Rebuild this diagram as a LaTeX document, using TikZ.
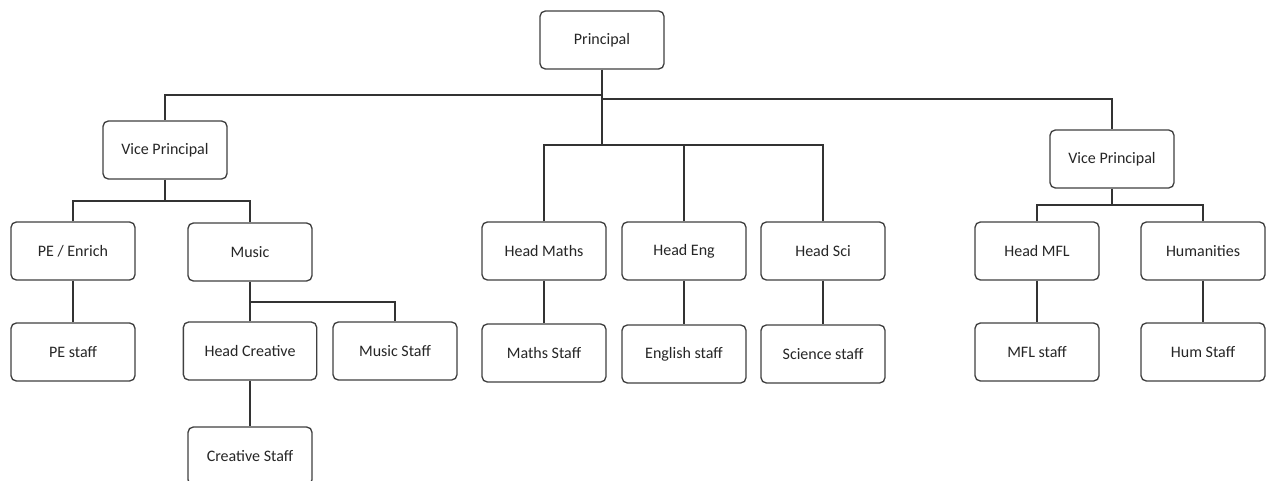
\documentclass[tikz,border=0pt]{standalone}
\usepackage{fontspec}
\setmainfont{Carlito}
\usetikzlibrary{positioning}

\begin{document}
\begin{tikzpicture}[
    x=0.75pt, y=-0.75pt,
    font=\fontsize{12}{14}\selectfont,
    post/.style={draw=black!75, line width=1pt, rounded corners=4pt,
                 fill=white, text=black!85, inner sep=2pt,
                 minimum width=93pt, minimum height=43.5pt},
    link/.style={draw=black!80, line width=1pt},
]

\useasboundingbox (0,0) rectangle (1273,481);

% =====================================================================
%  Posts
% =====================================================================
\node[post] (prin) at (602,40) {Principal};

\node[post] (vpL) at (165,150) {Vice Principal};
\node[post] (vpR) at (1112,159) {Vice Principal};

% --- heads row ---
\node[post] (pe)    at (73,251)   {PE / Enrich};
\node[post] (music) at (250,252)  {Music};
\node[post] (maths) at (544,251)  {Head Maths};
\node[post] (eng)   at (684,251)  {Head Eng};
\node[post] (sci)   at (823,251)  {Head Sci};
\node[post] (mfl)   at (1037,251) {Head MFL};
\node[post] (hum)   at (1203,251) {Humanities};

% --- staff row ---
\node[post] (peS)    at (73,352)   {PE staff};
\node[post, minimum width=100pt] (creative) at (250,351) {Head Creative};
\node[post] (musicS) at (395,351)  {Music Staff};
\node[post] (mathsS) at (544,353)  {Maths Staff};
\node[post] (engS)   at (684,354)  {English staff};
\node[post] (sciS)   at (823,354)  {Science staff};
\node[post] (mflS)   at (1037,352) {MFL staff};
\node[post] (humS)   at (1203,352) {Hum Staff};

\node[post] (creativeS) at (250,456) {Creative Staff};

% =====================================================================
%  Bus lines
% =====================================================================
\coordinate (busL)  at (602,95);
\coordinate (busR)  at (602,99);
\coordinate (busM)  at (602,145);
\coordinate (busVL) at (165,201);
\coordinate (busVR) at (1112,205);
\coordinate (busMu) at (250,302);

% --- Principal to the three branches ---
\draw[link] (prin.south) -- (busL) -| (vpL.north);
\draw[link] (busL) -- (busR) -| (vpR.north);
\draw[link] (busR) -- (busM);
\draw[link] (maths.north) |- (busM) -| (sci.north);
\draw[link] (eng.north) -- (eng.north |- busM);

% --- Vice Principals to their heads ---
\draw[link] (vpL.south) -- (busVL);
\draw[link] (pe.north) |- (busVL) -| (music.north);
\draw[link] (vpR.south) -- (busVR);
\draw[link] (mfl.north) |- (busVR) -| (hum.north);

% --- Music to its staff ---
\draw[link] (music.south) -- (busMu);
\draw[link] (creative.north) |- (busMu) -| (musicS.north);

% --- heads straight down to staff ---
\foreach \a/\b in {pe/peS, maths/mathsS, eng/engS, sci/sciS,
                   mfl/mflS, hum/humS, creative/creativeS} {
    \draw[link] (\a) -- (\b);
}

\end{tikzpicture}
\end{document}
